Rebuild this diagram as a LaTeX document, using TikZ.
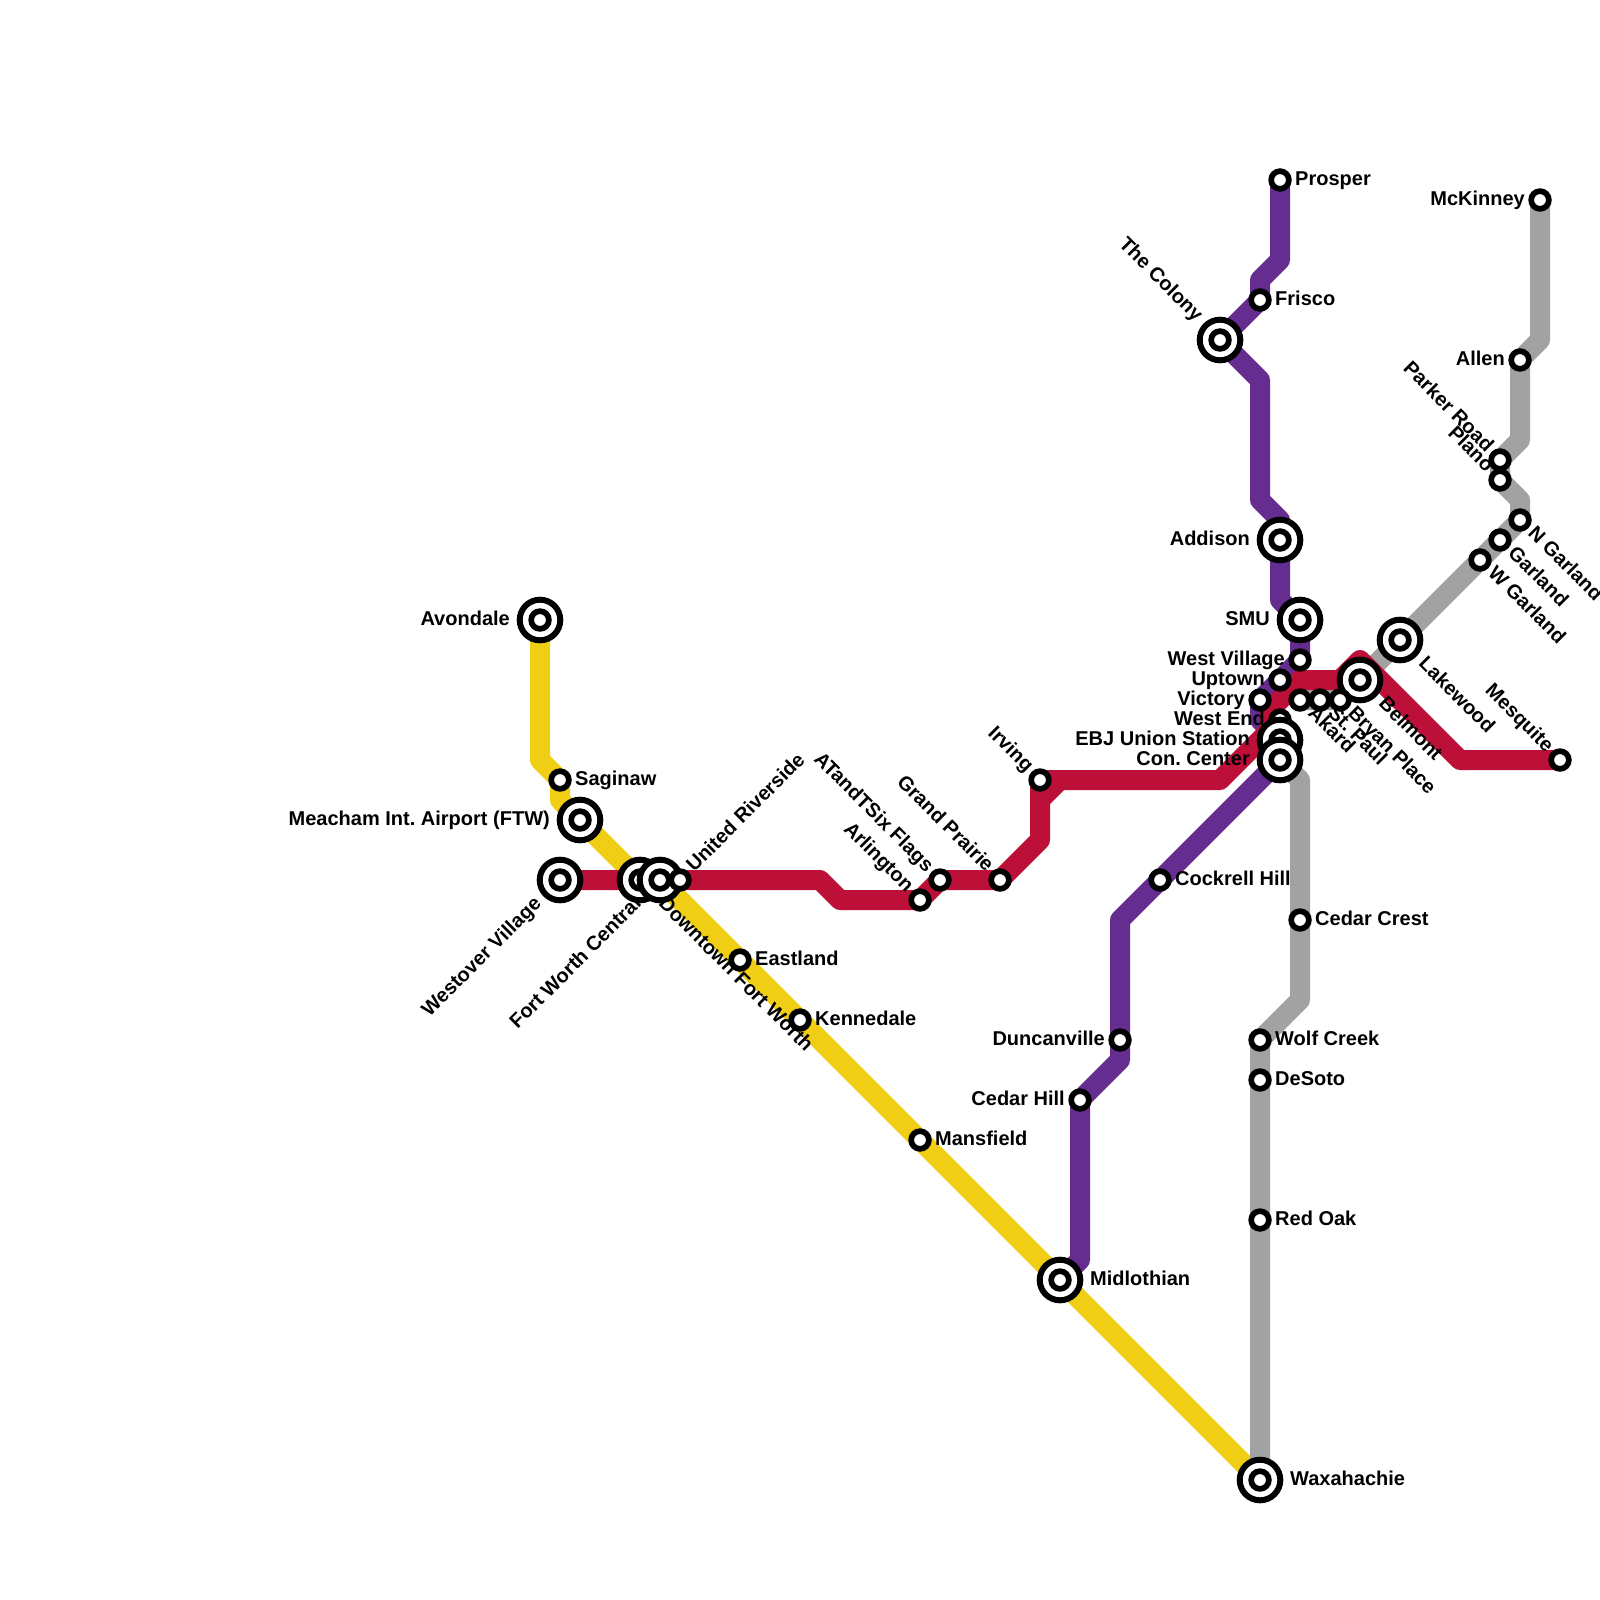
\documentclass[tikz,border=0pt]{standalone}
\usepackage{fontspec}
\setmainfont{Liberation Sans}
\usepackage{tikz}
\usetikzlibrary{backgrounds}

\begin{document}
\frenchspacing
\begin{tikzpicture}[
    x=1pt, y=-1pt,
    % Define styles for the stations and lines
        stop/.style={circle, draw=black, fill=white, line width=5.7pt, minimum size=17.7pt, inner sep=0pt, outer sep=0pt},
        hub/.style={circle, draw=black, fill=white, line width=6pt, minimum size=40.6pt, inner sep=0pt, outer sep=0pt,
            path picture={\draw[line width=5.7pt] (path picture bounding box.center) circle (8.85pt);}},
        txt/.style={font=\fontsize{20}{24}\selectfont\bfseries, inner sep=0pt, text height=14.4pt, text depth=4.2pt},
        tr/.style={txt, anchor=west, xshift=#1},
        tl/.style={txt, anchor=east, xshift=-#1},
        tne/.style={txt, anchor=west, rotate=45, xshift=#1},
        tse/.style={txt, anchor=west, rotate=-45, xshift=#1},
        tnw/.style={txt, anchor=east, rotate=-45, xshift=-#1},
        tsw/.style={txt, anchor=east, rotate=45, xshift=-#1},
        metro/.style={line width=20pt, line join=round, line cap=round}
    ]
    \definecolor{lineyellow}{HTML}{F0CE15}
    \definecolor{linered}{HTML}{BD1038}
    \definecolor{linepurple}{HTML}{662D91}
    \definecolor{linegray}{HTML}{A2A2A2}

    \useasboundingbox (0,0) rectangle (1600,1600);

        % Yellow line stations
        \node[hub] (avondale) at (540,620) {};
        \node[tl=30] (avondaletxt) at (avondale.center) {Avondale};
        \node[stop] (saginaw) at (560,780) {};
        \node[tr=15] (saginawtxt) at (saginaw.center) {Saginaw};
        \node[hub] (meacham) at (580,820) {};
        \node[tl=30] (meachamtxt) at (meacham.center) {Meacham Int. Airport (FTW)};
        \node[stop] (eastland) at (740,960) {};
        \node[tr=15] (eastlandtxt) at (eastland.center) {Eastland};
        \node[stop] (kennedale) at (800,1020) {};
        \node[tr=15] (kennedaletxt) at (kennedale.center) {Kennedale};
        \node[stop] (mansfield) at (920,1140) {};
        \node[tr=15] (mansfieldtxt) at (mansfield.center) {Mansfield};
        \node[hub] (midlothian) at (1060,1280) {};
        \node[tr=30] (midlothiantxt) at (midlothian.center) {Midlothian};
        \node[hub] (waxahachie) at (1260,1480) {};
        \node[tr=30] (waxahachietxt) at (waxahachie.center) {Waxahachie};

        % Red line stations
        \node[hub] (westover) at (560,880) {};
        \node[tsw=30] (westovertxt) at (westover.center) {Westover Village};
        \node[hub] (downtown) at (640,880) {};
        \node[tse=30] (downtowntxt) at (downtown.center) {Downtown Fort Worth};
        \node[hub] (fwcentral) at (660,880) {};
        \node[tsw=30] (fwcentraltxt) at (fwcentral.center) {Fort Worth Central};
        \node[stop] (riverside) at (680,880) {};
        \node[tne=15] (riversidetxt) at (riverside.center) {United Riverside};
        \node[stop] (arlington) at (920,900) {};
        \node[tnw=15] (arlingtontxt) at (arlington.center) {Arlington};
        \node[stop] (sixflags) at (940,880) {};
        \node[tnw=15] (sixflagstxt) at (sixflags.center) {ATandTSix Flags};
        \node[stop] (grandprairie) at (1000,880) {};
        \node[tnw=15] (grandprairietxt) at (grandprairie.center) {Grand Prairie};
        \node[stop] (irving) at (1040,780) {};
        \node[tnw=15] (irvingtxt) at (irving.center) {Irving};
        \node[stop] (mesquite) at (1560,760) {};
        \node[tnw=15] (mesquitetxt) at (mesquite.center) {Mesquite};

        % Purple line stations
        \node[stop] (prosper) at (1280,180) {};
        \node[tr=15] (prospertxt) at (prosper.center) {Prosper};
        \node[stop] (frisco) at (1260,300) {};
        \node[tr=15] (friscotxt) at (frisco.center) {Frisco};
        \node[hub] (colony) at (1220,340) {};
        \node[tnw=30] (colonytxt) at (colony.center) {The Colony};
        \node[hub] (addison) at (1280,540) {};
        \node[tl=30] (addisontxt) at (addison.center) {Addison};
        \node[hub] (smu) at (1300,620) {};
        \node[tl=30] (smutxt) at (smu.center) {SMU};
        \node[stop] (westvillage) at (1300,660) {};
        \node[tl=15] (westvillagetxt) at (westvillage.center) {West Village};
        \node[stop] (uptown) at (1280,680) {};
        \node[tl=15] (uptowntxt) at (uptown.center) {Uptown};
        \node[stop] (victory) at (1260,700) {};
        \node[tl=15] (victorytxt) at (victory.center) {Victory};
        \node[stop] (westend) at (1280,720) {};
        \node[tl=15] (westendtxt) at (westend.center) {West End};
        \node[hub] (unionstation) at (1280,740) {};
        \node[tl=30] (unionstationtxt) at (unionstation.center) {EBJ Union Station};
        \node[hub] (concenter) at (1280,760) {};
        \node[tl=30] (concentertxt) at (concenter.center) {Con. Center};
        \node[stop] (cockrell) at (1160,880) {};
        \node[tr=15] (cockrelltxt) at (cockrell.center) {Cockrell Hill};
        \node[stop] (duncanville) at (1120,1040) {};
        \node[tl=15] (duncanvilletxt) at (duncanville.center) {Duncanville};
        \node[stop] (cedarhill) at (1080,1100) {};
        \node[tl=15] (cedarhilltxt) at (cedarhill.center) {Cedar Hill};

        % Gray line stations
        \node[stop] (mckinney) at (1540,200) {};
        \node[tl=15] (mckinneytxt) at (mckinney.center) {McKinney};
        \node[stop] (allen) at (1520,360) {};
        \node[tl=15] (allentxt) at (allen.center) {Allen};
        \node[stop] (parker) at (1500,460) {};
        \node[tnw=15] (parkertxt) at (parker.center) {Parker Road};
        \node[stop] (plano) at (1500,480) {};
        \node[tnw=15] (planotxt) at (plano.center) {Plano};
        \node[stop] (ngarland) at (1520,520) {};
        \node[tse=15] (ngarlandtxt) at (ngarland.center) {N Garland};
        \node[stop] (garland) at (1500,540) {};
        \node[tse=15] (garlandtxt) at (garland.center) {Garland};
        \node[stop] (wgarland) at (1480,560) {};
        \node[tse=15] (wgarlandtxt) at (wgarland.center) {W Garland};
        \node[hub] (lakewood) at (1400,640) {};
        \node[tse=30] (lakewoodtxt) at (lakewood.center) {Lakewood};
        \node[hub] (belmont) at (1360,680) {};
        \node[tse=30] (belmonttxt) at (belmont.center) {Belmont};
        \node[stop] (bryan) at (1340,700) {};
        \node[tse=15] (bryantxt) at (bryan.center) {Bryan Place};
        \node[stop] (stpaul) at (1320,700) {};
        \node[tse=15] (stpaultxt) at (stpaul.center) {St. Paul};
        \node[stop] (akard) at (1300,700) {};
        \node[tse=15] (akardtxt) at (akard.center) {Akard};
        \node[stop] (cedarcrest) at (1300,920) {};
        \node[tr=15] (cedarcresttxt) at (cedarcrest.center) {Cedar Crest};
        \node[stop] (wolfcreek) at (1260,1040) {};
        \node[tr=15] (wolfcreektxt) at (wolfcreek.center) {Wolf Creek};
        \node[stop] (desoto) at (1260,1080) {};
        \node[tr=15] (desototxt) at (desoto.center) {DeSoto};
        \node[stop] (redoak) at (1260,1220) {};
        \node[tr=15] (redoaktxt) at (redoak.center) {Red Oak};

        % Bends of the lines
        \coordinate (ya) at (540,760);
        \coordinate (yb) at (560,800);
        \coordinate (ra) at (820,880);
        \coordinate (rb) at (840,900);
        \coordinate (rc) at (1040,840);
        \coordinate (rl) at (1040,800);
        \coordinate (rd) at (1060,780);
        \coordinate (re) at (1220,780);
        \coordinate (rk) at (1270,730);
        \coordinate (rj) at (1270,710);
        \coordinate (rf) at (1300,680);
        \coordinate (rg) at (1340,680);
        \coordinate (rh) at (1360,660);
        \coordinate (ri) at (1460,760);
        \coordinate (pa) at (1280,260);
        \coordinate (pb) at (1260,280);
        \coordinate (pc) at (1260,380);
        \coordinate (pd) at (1260,500);
        \coordinate (pe) at (1280,520);
        \coordinate (pf) at (1280,600);
        \coordinate (pg) at (1260,720);
        \coordinate (ph) at (1120,920);
        \coordinate (pi) at (1120,1060);
        \coordinate (pj) at (1080,1260);
        \coordinate (ga) at (1540,340);
        \coordinate (gb) at (1520,440);
        \coordinate (gc) at (1520,500);
        \coordinate (gd) at (1300,780);
        \coordinate (ge) at (1300,1000);

        % Draw the lines under the stations
        \begin{scope}[on background layer]
        \draw[metro, lineyellow] (avondale.center) -- (ya) -- (saginaw.center) -- (yb) -- (meacham.center) -- (downtown.center) -- (fwcentral.center) -- (eastland.center) -- (kennedale.center) -- (mansfield.center) -- (midlothian.center) -- (waxahachie.center);

        \draw[metro, linegray] (mckinney.center) -- (ga) -- (allen.center) -- (gb) -- (parker.center) -- (plano.center) -- (gc) -- (ngarland.center) -- (garland.center) -- (wgarland.center) -- (lakewood.center) -- (belmont.center) -- (bryan.center) -- (stpaul.center) -- (akard.center);

        \draw[metro, linegray] (concenter.center) -- (gd) -- (cedarcrest.center) -- (ge) -- (wolfcreek.center) -- (desoto.center) -- (redoak.center) -- (waxahachie.center);

        \draw[metro, linepurple] (prosper.center) -- (pa) -- (pb) -- (frisco.center) -- (colony.center) -- (pc) -- (pd) -- (pe) -- (addison.center) -- (pf) -- (smu.center) -- (westvillage.center) -- (uptown.center) -- (victory.center) -- (pg) -- (unionstation.center) -- (concenter.center) -- (cockrell.center) -- (ph) -- (duncanville.center) -- (pi) -- (cedarhill.center) -- (pj) -- (midlothian.center);

        \draw[metro, linered] (westover.center) -- (downtown.center) -- (fwcentral.center) -- (riverside.center) -- (ra) -- (rb) -- (arlington.center) -- (sixflags.center) -- (grandprairie.center) -- (rc) -- (rl) -- (rd) -- (re) -- (rk) -- (rj) -- (rf) -- (rg) -- (rh) -- (ri) -- (mesquite.center);

        \draw[metro, linered] (rl) -- (irving.center) -- (rd);
        \end{scope}
    \end{tikzpicture}
\end{document}
